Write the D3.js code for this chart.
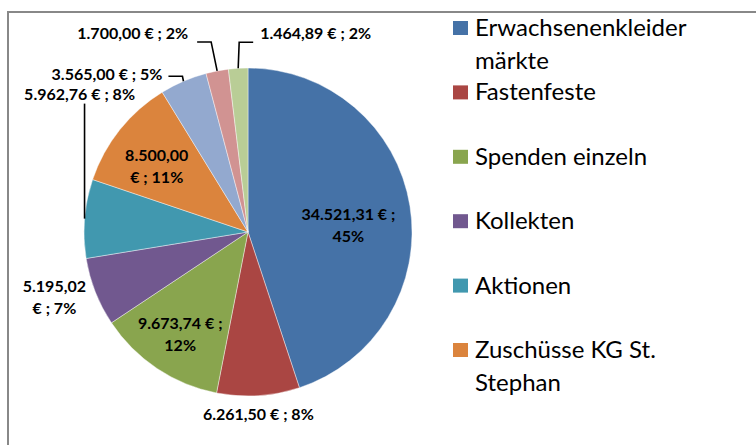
<!DOCTYPE html>
<html>
<head>
<meta charset="utf-8">
<script src="https://cdn.jsdelivr.net/npm/d3@7/dist/d3.min.js"></script>
<style>
  body { margin: 0; background: #fff; }
  svg { display: block; }
</style>
</head>
<body>
<svg id="chart" width="756" height="445"></svg>
<script>
// data (the last three names are cut off in the legend)
var categories = ["Erwachsenenkleider märkte", "Fastenfeste", "Spenden einzeln", "Kollekten",
                  "Aktionen", "Zuschüsse KG St. Stephan", "Sonstiges 1", "Sonstiges 2", "Sonstiges 3"];
var values = [34521.31, 6261.50, 9673.74, 5195.02, 5962.76, 8500.00, 3565.00, 1700.00, 1464.89];
// percentages as printed in the chart
var percents = [45, 8, 12, 7, 8, 11, 5, 2, 2];
var colors = ["#4572A7", "#AA4643", "#89A54E", "#71588F", "#4198AF", "#DB843D", "#93A9CF", "#D19392", "#B9CD96"];
var legendShown = 6;

var width = 756,
    height = 445,
    cx = 248,
    cy = 232,
    radius = 164,
    labelFont = "Lato, 'Open Sans', sans-serif",
    lineH = 22;

// how each data label sits: inside (f = fraction of radius) or outside with a leader
var labelStyle = [
    {pos: "in", f: 0.62, dx: 0, dy: 9, wrap: 100},
    {pos: "out", anchor: "middle", dx: 0, dy: 24},
    {pos: "in", f: 0.745, dx: 0, dy: 0, wrap: 95},
    {pos: "out", anchor: "middle", dx: -41, dy: 0, wrap: 70},
    {pos: "out", anchor: "middle", dx: -5, dy: -119, leader: [[0, -115]]},
    {pos: "in", f: 0.665, dx: -6, dy: 2, wrap: 70},
    {pos: "out", anchor: "end", dx: -21, dy: -1, leader: [[-1, -5], [-15, -5]]},
    {pos: "out", anchor: "end", dx: -29, dy: -32, leader: [[-6, -29], [-20, -29]]},
    {pos: "out", anchor: "start", dx: 22, dy: -29, leader: [[1, -26], [15, -26]]}
];

var de = d3.formatLocale({decimal: ",", thousands: ".", grouping: [3], currency: ["", " €"]});
var fmtMoney = de.format(",.2f");

var svg = d3.select("#chart");

svg.append("rect")
    .attr("width", width)
    .attr("height", height)
    .attr("fill", "#fff");

// chart frame (cut off at right and bottom)
svg.append("rect")
    .attr("x", 8)
    .attr("y", 12)
    .attr("width", width + 20)
    .attr("height", height + 20)
    .attr("fill", "none")
    .attr("stroke", "#888")
    .attr("stroke-width", 2);

var pie = d3.pie().sort(null).value(function (d) { return d; });
var arcs = pie(values);
var arc = d3.arc().innerRadius(0).outerRadius(radius);

var g = svg.append("g")
    .attr("transform", "translate(" + cx + "," + cy + ")");

g.selectAll("path.slice")
    .data(arcs)
    .enter()
    .append("path")
    .attr("class", "slice")
    .attr("d", arc)
    .attr("fill", function (d, i) { return colors[i]; })
    .attr("stroke", "#fff")
    .attr("stroke-width", 0.6)
    .attr("stroke-opacity", 0.7);

function pointAt(d, f) {
    var a = (d.startAngle + d.endAngle) / 2;
    return [Math.sin(a) * radius * f, -Math.cos(a) * radius * f];
}

function labelText(i) {
    return fmtMoney(values[i]) + " € ; " + percents[i] + "%";
}

// simple word wrap using the text's own measured width
function wrapWords(parent, text, maxW, size, weight) {
    var words = text.split(" "), lines = [], cur = "";
    var probe = parent.append("text")
        .attr("font-family", labelFont)
        .attr("font-size", size)
        .attr("font-weight", weight);
    words.forEach(function (w) {
        var t = cur ? cur + " " + w : w;
        probe.text(t);
        if (maxW && cur && probe.node().getComputedTextLength() > maxW) {
            lines.push(cur);
            cur = w;
        } else {
            cur = t;
        }
    });
    lines.push(cur);
    probe.remove();
    return lines;
}

arcs.forEach(function (d, i) {
    var s = labelStyle[i];
    var lines = wrapWords(svg, labelText(i), s.wrap, 16, "bold");
    var x, y0, anchor;
    if (s.pos === "in") {
        var p = pointAt(d, s.f);
        x = p[0] + s.dx;
        y0 = p[1] + s.dy - (lines.length - 1) * lineH / 2 + 6;
        anchor = "middle";
    } else {
        var o = pointAt(d, 1);
        x = o[0] + s.dx;
        y0 = o[1] + s.dy;
        anchor = s.anchor;
        if (s.leader) {
            var pts = [o].concat(s.leader.map(function (q) { return [o[0] + q[0], o[1] + q[1]]; }));
            g.append("path")
                .attr("d", d3.line()(pts))
                .attr("fill", "none")
                .attr("stroke", "#000")
                .attr("stroke-width", 1.6);
        }
    }
    var t = g.append("text")
        .attr("font-family", labelFont)
        .attr("font-size", 16)
        .attr("font-weight", "bold")
        .attr("fill", "#000")
        .attr("text-anchor", anchor);
    lines.forEach(function (ln, k) {
        t.append("tspan")
            .attr("x", x)
            .attr("y", y0 + k * lineH)
            .text(ln);
    });
});

// legend
var legendCats = categories.slice(0, legendShown);
var ly = d3.scalePoint()
    .domain(legendCats)
    .range([36, 358]);

var legend = svg.append("g");
legendCats.forEach(function (c, i) {
    var y = ly(c);
    legend.append("rect")
        .attr("x", 453)
        .attr("y", y - 15)
        .attr("width", 15)
        .attr("height", 14)
        .attr("fill", colors[i]);
    var lines = wrapWords(legend, c, 250, 24, "normal");
    var t = legend.append("text")
        .attr("font-family", labelFont)
        .attr("font-size", 24)
        .attr("fill", "#000");
    lines.forEach(function (ln, k) {
        t.append("tspan")
            .attr("x", 475)
            .attr("y", y + k * 33)
            .text(ln);
    });
});
</script>
</body>
</html>
